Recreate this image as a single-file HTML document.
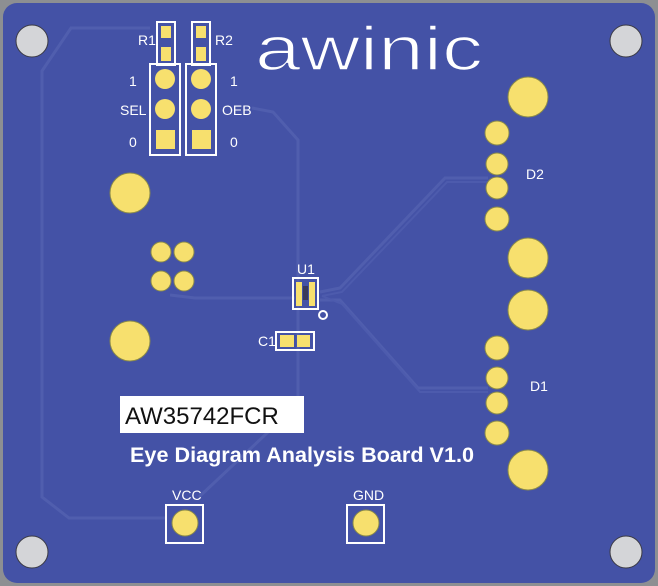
<!DOCTYPE html>
<html><head><style>
html,body{margin:0;padding:0;background:#8a8c90;}
body{width:658px;height:586px;overflow:hidden;position:relative;}
</style></head><body>
<svg width="658" height="586" viewBox="0 0 658 586" xmlns="http://www.w3.org/2000/svg" style="position:absolute;left:0;top:0">
<rect x="0" y="0" width="658" height="586" fill="#8d8f92"/>
<rect x="3" y="3" width="652" height="580" rx="14" fill="#4452a6"/>
<!-- traces -->
<g fill="none" stroke="#505eae" stroke-width="3">
<path d="M150,28 L71,28 L42,71 L42,497 L69,518 L166,518"/>
<path d="M252,108 L273,112 L298,140 L298,404 L199,497"/>
<path d="M170,295 L195,298 L295,298"/>
<path d="M320,292 L340,288 L445,178 L488,178"/>
<path d="M320,300 L340,300 L418,388 L488,388"/>
</g>
<g fill="none" stroke="#4d5bad" stroke-width="2">
<path d="M322,296 L342,292 L447,182 L488,182"/>
<path d="M322,296 L342,304 L420,392 L488,392"/>
</g>
<!-- corner holes -->
<g fill="#d4d5d8" stroke="#3a3a44" stroke-width="1">
<circle cx="32" cy="41" r="16"/><circle cx="626" cy="41" r="16"/>
<circle cx="32" cy="552" r="16"/><circle cx="626" cy="552" r="16"/>
</g>
<!-- pads -->
<g fill="#f7e06e" stroke="#8a8a4a" stroke-width="1">
<circle cx="528" cy="97" r="20"/><circle cx="528" cy="258" r="20"/>
<circle cx="528" cy="310" r="20"/><circle cx="528" cy="470" r="20"/>
<circle cx="130" cy="193" r="20"/><circle cx="130" cy="341" r="20"/>
<circle cx="497" cy="133" r="12"/><circle cx="497" cy="164" r="11"/>
<circle cx="497" cy="188" r="11"/><circle cx="497" cy="219" r="12"/>
<circle cx="497" cy="348" r="12"/><circle cx="497" cy="378" r="11"/>
<circle cx="497" cy="403" r="11"/><circle cx="497" cy="433" r="12"/>
<circle cx="161" cy="252" r="10"/><circle cx="184" cy="252" r="10"/>
<circle cx="161" cy="281" r="10"/><circle cx="184" cy="281" r="10"/>
<circle cx="185" cy="523" r="13"/><circle cx="366" cy="523" r="13"/>
</g>
<!-- jumpers -->
<g fill="none" stroke="#fff" stroke-width="2">
<rect x="157" y="22" width="18" height="43"/><rect x="192" y="22" width="18" height="43"/>
<rect x="150" y="64" width="30" height="91"/><rect x="186" y="64" width="30" height="91"/>
<rect x="166" y="505" width="37" height="38"/><rect x="347" y="505" width="37" height="38"/>
<rect x="293" y="278" width="25" height="31"/>
<rect x="276" y="332" width="38" height="18"/>
</g>
<g fill="#f7e06e">
<rect x="161" y="26" width="10" height="12"/><rect x="161" y="47" width="10" height="14"/>
<rect x="196" y="26" width="10" height="12"/><rect x="196" y="47" width="10" height="14"/>
<circle cx="165" cy="79" r="10"/><circle cx="165" cy="109" r="10"/><rect x="156" y="130" width="19" height="19"/>
<circle cx="201" cy="79" r="10"/><circle cx="201" cy="109" r="10"/><rect x="192" y="130" width="19" height="19"/>
<rect x="280" y="335" width="14" height="12"/><rect x="297" y="335" width="13" height="12"/>
<rect x="296" y="282" width="6" height="24"/><rect x="309" y="282" width="6" height="24"/>
</g>
<rect x="303" y="286" width="5" height="14" fill="#3a3a5a"/>
<circle cx="323" cy="315" r="4" fill="none" stroke="#fff" stroke-width="2"/>
<!-- labels -->
<g fill="#fff" font-family="Liberation Sans, sans-serif" font-size="14">
<text x="138" y="45">R1</text><text x="215" y="45">R2</text>
<text x="129" y="86">1</text><text x="230" y="86">1</text>
<text x="120" y="115">SEL</text><text x="222" y="115">OEB</text>
<text x="129" y="147">0</text><text x="230" y="147">0</text>
<text x="526" y="179">D2</text><text x="530" y="391">D1</text>
<text x="297" y="274">U1</text><text x="258" y="346">C1</text>
<text x="172" y="500">VCC</text><text x="353" y="500">GND</text>
</g>
<text x="255" y="70" fill="#fff" stroke="#4452a6" stroke-width="1.5" font-family="Liberation Sans, sans-serif" font-size="62" textLength="228" lengthAdjust="spacingAndGlyphs">awinic</text>
<rect x="120" y="396" width="184" height="37" fill="#fff"/>
<text x="125" y="424" fill="#111" font-family="Liberation Sans, sans-serif" font-size="24">AW35742FCR</text>
<text x="130" y="462" fill="#fff" font-family="Liberation Sans, sans-serif" font-weight="bold" font-size="21" textLength="344" lengthAdjust="spacingAndGlyphs">Eye Diagram Analysis Board V1.0</text>
</svg>
</body></html>
